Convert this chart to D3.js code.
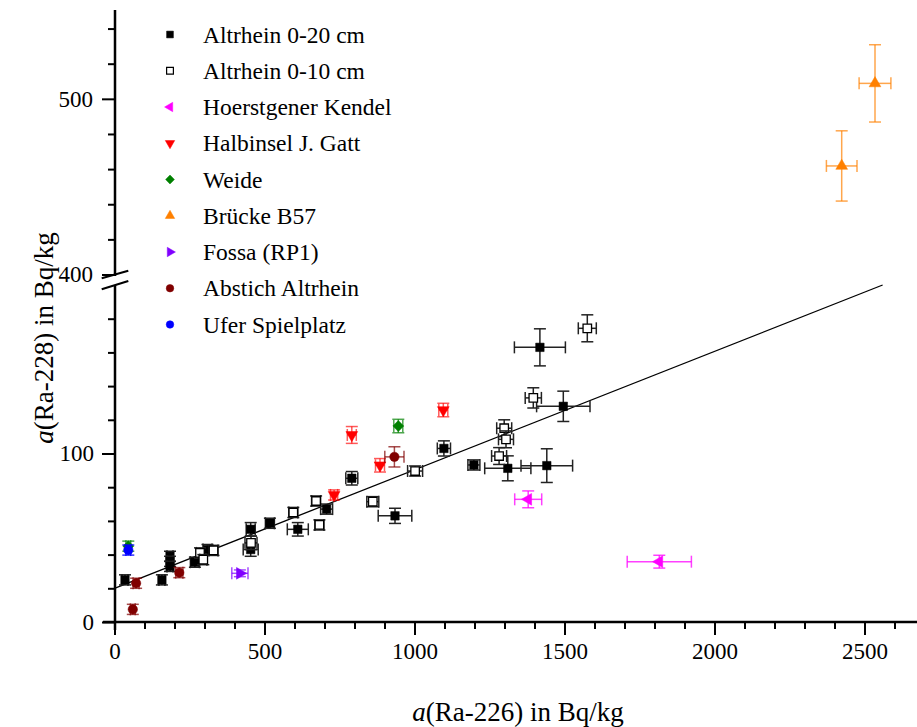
<!DOCTYPE html>
<html><head><meta charset="utf-8">
<script src="https://cdn.jsdelivr.net/npm/d3@7"></script>
<style>
body{margin:0;background:#fff}
text{font-family:"Liberation Serif","Times New Roman",serif;fill:#000}
</style>
</head><body>
<svg id="chart" width="917" height="727"></svg>
<script>
// Each point: [a(Ra-226), a(Ra-228), err Ra-226, err Ra-228]  (Bq/kg)
const altrhein20 = [
  [35,25,10,3],[158,25,10,3],[185,39,10,3],[185,36,10,3],[185,33,10,3],
  [268,35.5,15,3],[310,43,15,3],[454,55,15,4],[454,43,25,4],[518,58.6,15,3],
  [611,55,35,4],[707,67,20,3],[791,85.3,20,4],[935,63,56,4.5],[1098,103,22,4.5],
  [1198,93.2,20,3],[1311,91.2,77,7.4],[1441,92.8,86,10],[1496,128,89,9],[1418,163,85,11]
];
const altrhein10 = [
  [285,41,12,3],[296,37,12,3],[330,42.5,15,3],[455,47,20,4],[596,65,15,3],
  [672,71.8,15,3],[683,57.6,15,3],[861,71.4,20,3],[1002,89.6,25,3],[1282,98.5,25,5],
  [1299,115,25,5],[1305,108.4,25,5],[1396,133,27,6],[1576,174.3,30,8]
];
const hoerstgener = [[1379,72.8,45,5],[1816,35.8,107,3.8]];
const halbinsel = [[732,75.4,12,3],[791,111,15,5],[885,93,15,4],[1096,125.8,15,4]];
const weide = [[46,45,8,3],[946,116.3,15,4]];
const bruecke = [[2424,461.8,51,20],[2535,508.8,53,22]];
const fossa = [[418,28.9,27,2]];
const abstich = [[61,7.5,8,3],[72,23,10,3],[216,29.3,12,3],[933,98,32,6]];
const ufer = [[46,42.7,8,3]];

const seriesNames = ["Altrhein 0-20 cm","Altrhein 0-10 cm","Hoerstgener Kendel","Halbinsel J. Gatt",
  "Weide","Brücke B57","Fossa (RP1)","Abstich Altrhein","Ufer Spielplatz"];
const seriesData = [altrhein20, altrhein10, hoerstgener, halbinsel, weide, bruecke, fossa, abstich, ufer];

const xMajorTicks = [0,500,1000,1500,2000,2500];
const xMinorTicks = [100,200,300,400,600,700,800,900,1100,1200,1300,1400,1600,1700,1800,1900,2100,2200,2300,2400,2600];
const yLowMajorTicks = [0,100];
const yLowMinorTicks = [20,40,60,80,120,140,160,180];
const yHighMajorTicks = [400,500];
const yHighMinorTicks = [420,440,460,480,520,540];
const fitIntercept = 20, fitSlope = 0.0703;

// styles
const styles = [
  {sym:"square", fill:"#000", stroke:"#000", err:"#222", op:1},
  {sym:"square", fill:"#fff", stroke:"#000", err:"#222", op:1},
  {sym:"left", fill:"#ff00ff", stroke:"#ff00ff", err:"#ff00ff", op:0.75},
  {sym:"down", fill:"#ff0000", stroke:"#ff0000", err:"#ff0000", op:0.65},
  {sym:"diamond", fill:"#008000", stroke:"#008000", err:"#008000", op:0.7},
  {sym:"up", fill:"#ff8000", stroke:"#ff8000", err:"#ff8000", op:0.7},
  {sym:"right", fill:"#8000ff", stroke:"#8000ff", err:"#8000ff", op:0.7},
  {sym:"circle", fill:"#800000", stroke:"#800000", err:"#800000", op:0.7},
  {sym:"circle", fill:"#0000ff", stroke:"#0000ff", err:"#0000ff", op:0.8}
];

const svg = d3.select("#chart");
const x = d3.scaleLinear().domain([0,2500]).range([114.5,864.5]);
const yLow = d3.scaleLinear().domain([0,200]).range([622,285]);
const yHigh = d3.scaleLinear().domain([400,550]).range([274.5,11]);
const y = v => v < 300 ? yLow(v) : yHigh(v);

function symPath(type, big){
  const k = big ? 1 : 0.8;
  if (type==="square") return {d:d3.symbol(d3.symbolSquare, 72*k*k)(), rot:0};
  if (type==="circle") return {d:d3.symbol(d3.symbolCircle, 70*k*k)(), rot:0};
  if (type==="diamond") return {d:d3.symbol(d3.symbolSquare, 60*k*k)(), rot:45};
  const tri = d3.symbol(d3.symbolTriangle, 60*k*k)();
  const rot = {up:0, down:180, left:-90, right:90}[type];
  return {d:tri, rot};
}

// regression line
const fitEnd = (200 - fitIntercept)/fitSlope;
svg.append("line")
  .attr("x1", x(0)).attr("y1", yLow(fitIntercept))
  .attr("x2", x(fitEnd)).attr("y2", yLow(fitIntercept + fitSlope*fitEnd))
  .attr("stroke","#000").attr("stroke-width",1.3);

// series
const cap = 6;
seriesData.forEach((data, i) => {
  const st = styles[i];
  const g = svg.append("g");
  data.forEach(p => {
    const cx = x(p[0]), cy = y(p[1]);
    const eg = g.append("g").attr("stroke", st.err).attr("stroke-opacity", st.op).attr("stroke-width",1.5).attr("fill","none");
    const x1 = x(p[0]-p[2]), x2 = x(p[0]+p[2]);
    const y1 = y(p[1]-p[3]), y2 = y(p[1]+p[3]);
    eg.append("line").attr("x1",x1).attr("x2",x2).attr("y1",cy).attr("y2",cy);
    eg.append("line").attr("x1",x1).attr("x2",x1).attr("y1",cy-cap).attr("y2",cy+cap);
    eg.append("line").attr("x1",x2).attr("x2",x2).attr("y1",cy-cap).attr("y2",cy+cap);
    eg.append("line").attr("x1",cx).attr("x2",cx).attr("y1",y1).attr("y2",y2);
    eg.append("line").attr("x1",cx-cap).attr("x2",cx+cap).attr("y1",y1).attr("y2",y1);
    eg.append("line").attr("x1",cx-cap).attr("x2",cx+cap).attr("y1",y2).attr("y2",y2);
    const s = symPath(st.sym, true);
    g.append("path").attr("d", s.d)
      .attr("transform", `translate(${cx},${cy}) rotate(${s.rot})`)
      .attr("fill", st.fill).attr("stroke", st.stroke).attr("stroke-width", i===1?1.3:0.5);
  });
});

// axes
const axisW = 2;
function styleAxis(g){
  g.select(".domain").remove();
  g.selectAll(".tick line").attr("stroke","#000").attr("stroke-width",axisW);
  g.selectAll(".tick text").style("font-size","23px").attr("fill","#000");
}
svg.append("g").attr("transform","translate(0,622)")
  .call(d3.axisBottom(x).tickValues(xMajorTicks).tickSize(13).tickPadding(8).tickFormat(d3.format("d"))).call(styleAxis);
svg.append("g").attr("transform","translate(0,622)")
  .call(d3.axisBottom(x).tickValues(xMinorTicks).tickSize(7).tickFormat("")).call(styleAxis);
svg.append("g").attr("transform","translate(115,0)")
  .call(d3.axisLeft(yLow).tickValues(yLowMajorTicks).tickSize(13).tickPadding(8)).call(styleAxis);
svg.append("g").attr("transform","translate(115,0)")
  .call(d3.axisLeft(yLow).tickValues(yLowMinorTicks).tickSize(7).tickFormat("")).call(styleAxis);
svg.append("g").attr("transform","translate(115,0)")
  .call(d3.axisLeft(yHigh).tickValues(yHighMajorTicks).tickSize(13).tickPadding(9)).call(styleAxis);
svg.append("g").attr("transform","translate(115,0)")
  .call(d3.axisLeft(yHigh).tickValues(yHighMinorTicks).tickSize(7).tickFormat("")).call(styleAxis);

// axis lines
svg.append("line").attr("x1",103).attr("x2",917).attr("y1",622).attr("y2",622).attr("stroke","#000").attr("stroke-width",axisW+0.5);
svg.append("line").attr("x1",115).attr("x2",115).attr("y1",10).attr("y2",276).attr("stroke","#000").attr("stroke-width",axisW+0.5);
svg.append("line").attr("x1",115).attr("x2",115).attr("y1",284).attr("y2",630).attr("stroke","#000").attr("stroke-width",axisW+0.5);
// break marks
svg.append("polygon").attr("points","101,283 129,275 129,281 101,289").attr("fill","#fff");
svg.append("line").attr("x1",101.7).attr("y1",278.3).attr("x2",128.3).attr("y2",270.7).attr("stroke","#000").attr("stroke-width",2);
svg.append("line").attr("x1",101.7).attr("y1",289.3).attr("x2",128.3).attr("y2",281).attr("stroke","#000").attr("stroke-width",2);

// axis titles
const xt = svg.append("text").attr("x",518).attr("y",721).attr("text-anchor","middle").style("font-size","27px");
xt.append("tspan").style("font-style","italic").text("a");
xt.append("tspan").text("(Ra-226) in Bq/kg");
const yt = svg.append("text").attr("transform","translate(53,338) rotate(-90)").attr("text-anchor","middle").style("font-size","27px");
yt.append("tspan").style("font-style","italic").text("a");
yt.append("tspan").text("(Ra-228) in Bq/kg");

// legend
const leg = svg.append("g");
seriesNames.forEach((name, i) => {
  const st = styles[i];
  const ly = 34.5 + i*36.25;
  const s = symPath(st.sym, false);
  leg.append("path").attr("d", s.d)
    .attr("transform", `translate(170,${ly}) rotate(${s.rot})`)
    .attr("fill", st.fill).attr("stroke", st.stroke).attr("stroke-width", i===1?1.2:0.5);
  leg.append("text").attr("x",203).attr("y",ly).attr("dy","0.35em").style("font-size","23.5px").text(name);
});
</script>
</body></html>
